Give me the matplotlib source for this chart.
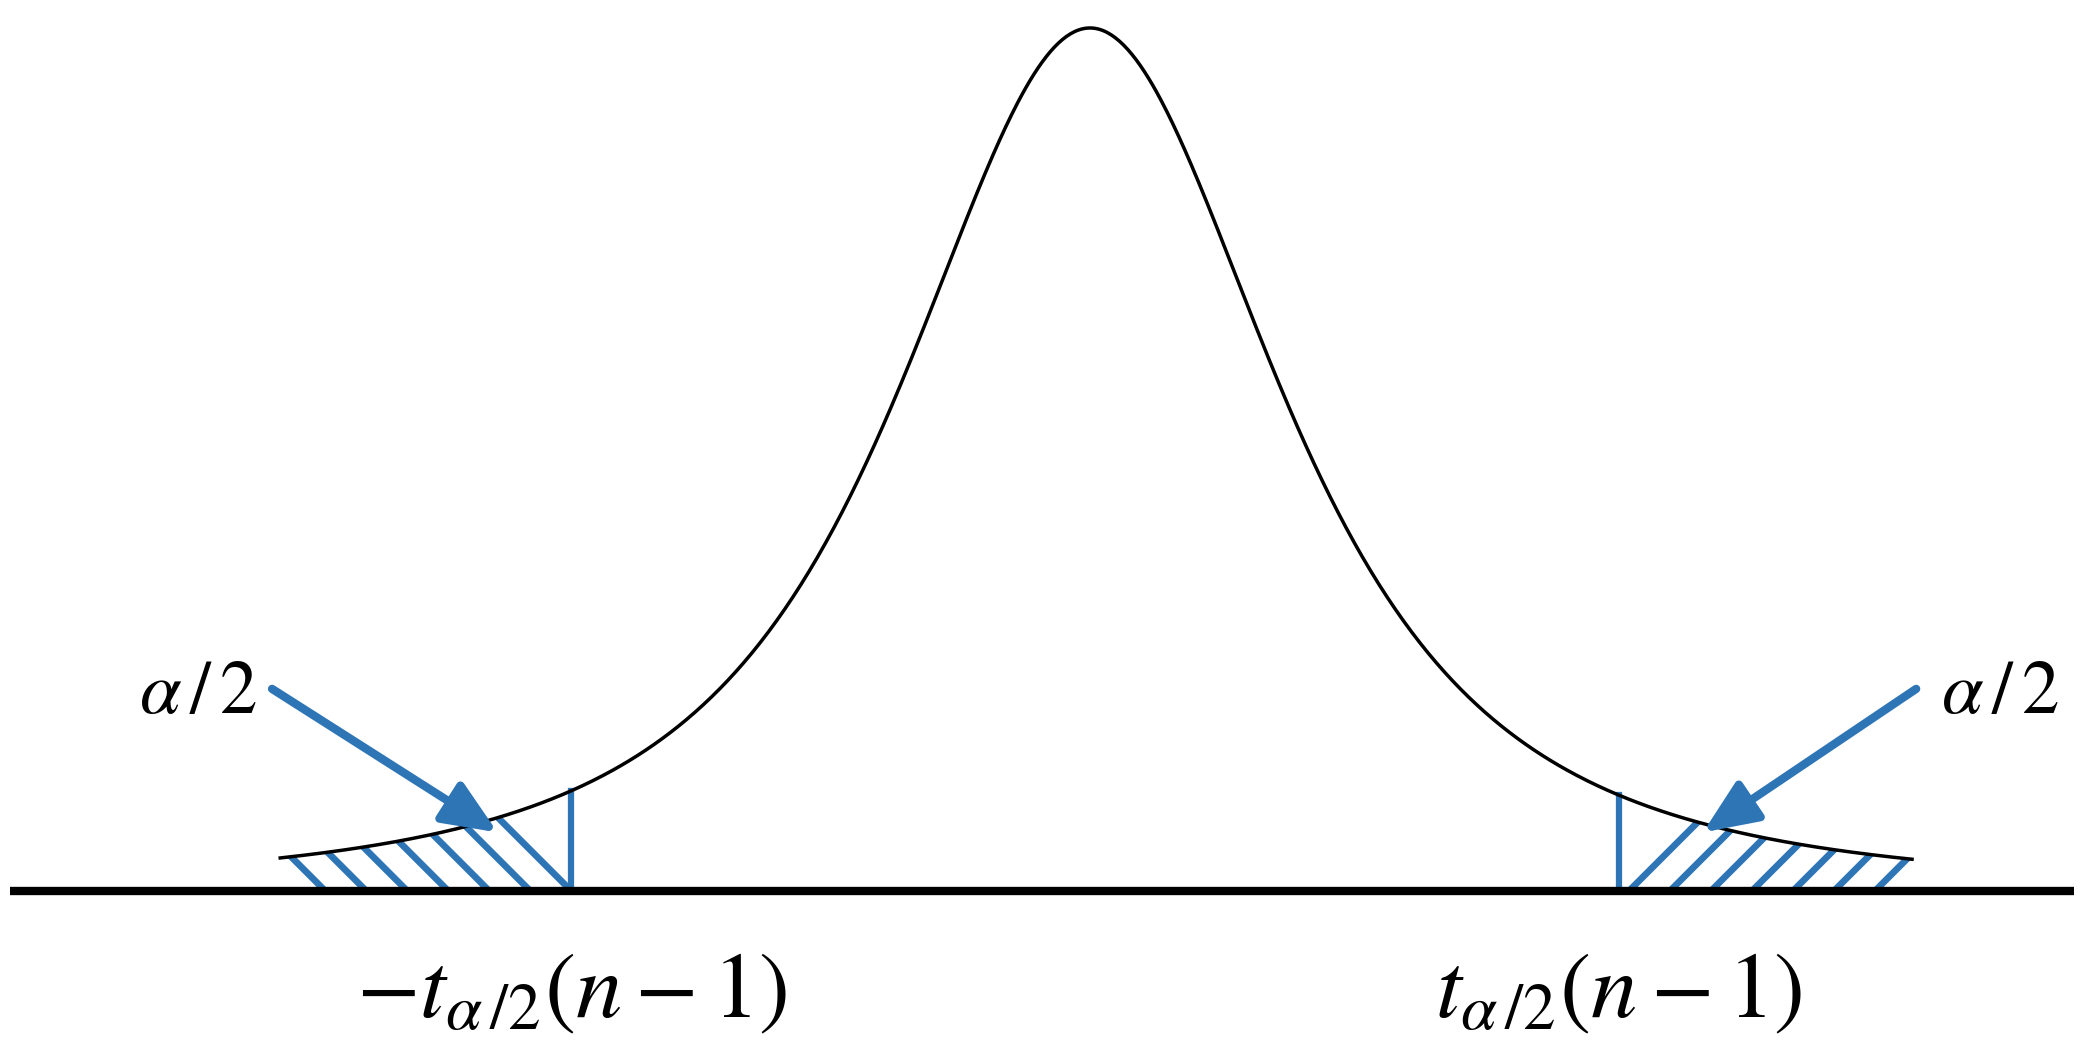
import matplotlib
matplotlib.use("Agg")
import matplotlib.pyplot as plt
from matplotlib.patches import Polygon
from math import gamma, sqrt, pi
import numpy as np

plt.rcParams["mathtext.fontset"] = "stix"

# t-distribution drawn in the sketch
dof = 2
curve_range = [-3.95, 4.01]       # where the black curve starts / stops
crit_values = [-2.53, 2.58]       # -t_{a/2}(n-1), t_{a/2}(n-1)
baseline_range = [-5.27, 4.80]

tail_labels = [r"$\alpha\,/\,2$", r"$\alpha\,/\,2$"]
tail_label_x = [-4.35, 4.44]
crit_labels = [r"$-t_{\alpha\,/2}(n-1)$", r"$t_{\alpha\,/2}(n-1)$"]

# arrows from the alpha/2 labels to the shaded tails
arrow_tails = [(-3.99, 0.0828), (4.03, 0.0828)]
arrow_tips = [(-2.89, 0.0240), (2.99, 0.0240)]

BLUE = "#2E75B6"
PX_X = 205.0     # pixels per x unit
PX_Y = 2441.0    # pixels per density unit


def t_pdf(x, nu):
    c = gamma((nu + 1) / 2) / (sqrt(nu * pi) * gamma(nu / 2))
    return c * (1 + x ** 2 / nu) ** (-(nu + 1) / 2)


fig = plt.figure(figsize=(20.98, 10.54), dpi=100)
ax = fig.add_axes([0, 0, 1, 1])
ax.set_xlim(-1090 / PX_X, (2098 - 1090) / PX_X)
ax.set_ylim(-163 / PX_Y, (1054 - 163) / PX_Y)
ax.axis("off")

x = np.linspace(curve_range[0], curve_range[1], 800)
ax.plot(x, t_pdf(x, dof), color="black", lw=2.5, zorder=4)

ax.plot(baseline_range, [0, 0], color="black", lw=6, solid_capstyle="butt", zorder=5)

# shaded tails: vertical line + sparse 45 degree hatching clipped to the region
gap = 41 / PX_X
slope = PX_X / PX_Y
regions = [(curve_range[0], crit_values[0]), (crit_values[1], curve_range[1])]
for side, (lo, hi) in enumerate(regions):
    xs = np.linspace(lo, hi, 200)
    poly = np.vstack([np.column_stack([xs, t_pdf(xs, dof)]), [[hi, 0], [lo, 0]]])
    clip = Polygon(poly, closed=True, facecolor="none", edgecolor="none")
    ax.add_patch(clip)

    crit = crit_values[side]
    ax.plot([crit, crit], [0, t_pdf(crit, dof)], color=BLUE, lw=4.5, zorder=3)

    dx = 0.6
    if side == 0:
        for x0 in crit - gap * np.arange(7):
            ln, = ax.plot([x0, x0 - dx], [0, dx * slope], color=BLUE, lw=4.8, zorder=3)
            ln.set_clip_path(clip)
    else:
        for x0 in crit + 10 / PX_X + gap * np.arange(7):
            ln, = ax.plot([x0, x0 + dx], [0, dx * slope], color=BLUE, lw=4.8, zorder=3)
            ln.set_clip_path(clip)

for tail, tip in zip(arrow_tails, arrow_tips):
    ax.annotate("", xy=tip, xytext=tail,
                arrowprops=dict(arrowstyle="-|>,head_length=0.75,head_width=0.32",
                                mutation_scale=44, color=BLUE, lw=6,
                                shrinkA=0, shrinkB=0), zorder=6)

for lx, lab in zip(tail_label_x, tail_labels):
    ax.text(lx, 0.0815, lab, fontsize=54, ha="center", va="center")

for cx, lab in zip(crit_values, crit_labels):
    ax.text(cx, -0.041, lab, fontsize=67, ha="center", va="center")

fig.savefig("out.png", dpi=100, facecolor="white")
